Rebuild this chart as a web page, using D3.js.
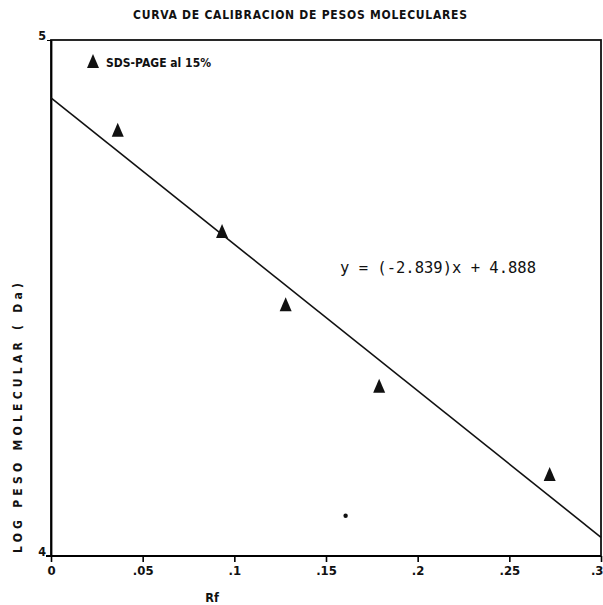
<!DOCTYPE html>
<html>
<head>
    <style>
        body { margin: 0; background: #fff; }
        text { font-family: "DejaVu Sans Condensed", "DejaVu Sans", sans-serif; font-weight: bold; fill: #111; }
    </style>
    <script src="https://d3js.org/d3.v7.min.js"></script>
</head>
<body>
    <svg width="603" height="605"></svg>
    <script>
        // datos
        var rf = [0.0364, 0.0933, 0.128, 0.179, 0.272];
        var logPeso = [4.822, 4.626, 4.484, 4.326, 4.155];
        var punto = [0.1607, 4.078];          // punto suelto
        var pendiente = -2.839, intercepto = 4.888;
        var xTicks = [0, 0.05, 0.1, 0.15, 0.2, 0.25, 0.3];
        var yTicks = [4, 5];

        var svg = d3.select("svg");
        var mLeft = 51, mRight = 601, mTop = 40, mBottom = 556;

        var x = d3.scaleLinear().domain([0, 0.3]).range([mLeft, mRight]);
        var y = d3.scaleLinear().domain([4, 5]).range([mBottom, mTop]);

        // titulo
        svg.append("text")
            .attr("x", 300).attr("y", 19)
            .attr("text-anchor", "middle")
            .attr("font-size", 12)
            .attr("textLength", 334)
            .text("CURVA DE CALIBRACION DE PESOS MOLECULARES");

        // caja
        svg.append("rect")
            .attr("x", mLeft).attr("y", mTop)
            .attr("width", mRight - mLeft).attr("height", mBottom - mTop)
            .attr("fill", "none").attr("stroke", "#111").attr("stroke-width", 1.8);

        // ejes
        var xAxis = d3.axisBottom(x).tickValues(xTicks).tickSize(6).tickSizeOuter(0)
            .tickFormat(function(d) { return d === 0 ? "0" : d3.format(".2~f")(d).replace(/^0/, ""); });
        var gx = svg.append("g").attr("transform", "translate(0," + mBottom + ")").call(xAxis);
        gx.select(".domain").attr("stroke-width", 1.8).attr("d", "M" + (mLeft - 5) + ",0H" + mRight);
        gx.selectAll(".tick line").attr("stroke-width", 1.6);
        gx.selectAll(".tick text").attr("font-size", 13).attr("y", 10)
            .style("font-family", "DejaVu Sans Condensed").style("font-weight", "bold").attr("fill", "#111");
        gx.selectAll(".tick text").filter(function(d) { return d === 0.3; })
            .attr("text-anchor", "end").attr("x", 2);

        var yAxis = d3.axisLeft(y).tickValues(yTicks).tickSize(4).tickSizeOuter(0).tickFormat(d3.format("d"));
        var gy = svg.append("g").attr("transform", "translate(" + mLeft + ",0)").call(yAxis);
        gy.select(".domain").attr("stroke-width", 1.8);
        gy.selectAll(".tick text").attr("font-size", 12.5).attr("x", -5).attr("dy", "-0.05em")
            .style("font-family", "DejaVu Sans Condensed").style("font-weight", "bold").attr("fill", "#111");

        // titulos de ejes
        svg.append("text")
            .attr("x", 212).attr("y", 602)
            .attr("text-anchor", "middle")
            .attr("font-size", 12.5)
            .text("Rf");

        svg.append("text")
            .attr("transform", "translate(22,553) rotate(-90)")
            .attr("font-size", 12)
            .attr("textLength", 270)
            .attr("lengthAdjust", "spacing")
            .text("LOG PESO MOLECULAR ( Da)");

        // recta de calibracion
        var recta = [xTicks[0], xTicks[xTicks.length - 1]];
        svg.append("path")
            .datum(recta)
            .attr("fill", "none").attr("stroke", "#111").attr("stroke-width", 1.6)
            .attr("d", d3.line()
                .x(function(d) { return x(d); })
                .y(function(d) { return y(pendiente * d + intercepto); }));

        // triangulos
        var tri = "M0,-9L6,5L-6,5Z";
        svg.selectAll(".pt")
            .data(rf)
            .enter().append("path")
            .attr("class", "pt")
            .attr("d", tri)
            .attr("fill", "#111")
            .attr("transform", function(d, i) { return "translate(" + x(d) + "," + y(logPeso[i]) + ")"; });

        svg.append("circle")
            .attr("cx", x(punto[0])).attr("cy", y(punto[1]))
            .attr("r", 2.2).attr("fill", "#111");

        // leyenda
        svg.append("path").attr("d", tri).attr("fill", "#111")
            .attr("transform", "translate(93,63)");
        svg.append("text")
            .attr("x", 106).attr("y", 67)
            .attr("font-size", 12)
            .attr("textLength", 105)
            .text("SDS-PAGE al 15%");

        // ecuacion
        svg.append("text")
            .attr("x", 340).attr("y", 273)
            .style("font-family", "DejaVu Sans Mono")
            .style("font-weight", "normal")
            .attr("font-size", 15.5)
            .text("y = (-2.839)x + 4.888");
    </script>
</body>
</html>
